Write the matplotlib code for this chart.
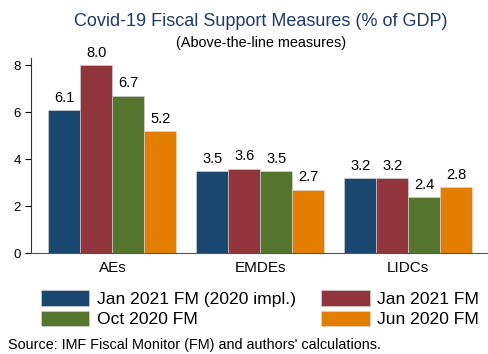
import numpy as np
import matplotlib.pyplot as plt
from matplotlib.patches import Patch

# Fiscal support by country group, % of GDP
groups = ['AEs', 'EMDEs', 'LIDCs']
series = ['Jan 2021 FM (2020 impl.)', 'Jan 2021 FM', 'Oct 2020 FM', 'Jun 2020 FM']
jan21_impl = [6.1, 3.5, 3.2]
jan21 = [8.0, 3.6, 3.2]
oct20 = [6.7, 3.5, 2.4]
jun20 = [5.2, 2.7, 2.8]
colors = ['#1a476f', '#90353b', '#55752f', '#e37e00']

plt.rcParams['font.family'] = ['Liberation Sans', 'DejaVu Sans']

fig = plt.figure(figsize=(4.88, 3.54), dpi=100)
ax = fig.add_axes([0.0635, 0.285, 0.94, 0.551])

x = np.arange(len(groups))
w = 0.216
for i, vals in enumerate([jan21_impl, jan21, oct20, jun20]):
    pos = x + (i - 1.5) * w
    bars = ax.bar(pos, vals, width=w, color=colors[i], edgecolor='#d9d9d9', linewidth=0.4)
    for b, v in zip(bars, vals):
        ax.text(b.get_x() + b.get_width() / 2, v + 0.22, f'{v:.1f}',
                ha='center', va='bottom', fontsize=10.5)

ax.set_xlim(-0.55, 2.55)
ax.set_ylim(0, 8.3)
ax.set_yticks([0, 2, 4, 6, 8])
ax.set_xticks(x)
ax.set_xticklabels(groups, fontsize=11)
ax.tick_params(axis='y', labelsize=9.5, length=4, width=0.8)
ax.tick_params(axis='x', length=0, pad=6)
ax.spines['top'].set_visible(False)
ax.spines['right'].set_visible(False)
ax.spines['left'].set_color('#333333')
ax.spines['bottom'].set_color('#555555')

fig.text(0.535, 0.94, 'Covid-19 Fiscal Support Measures (% of GDP)',
         ha='center', va='center', fontsize=13.0, color='#1e3a68')
fig.text(0.535, 0.878, '(Above-the-line measures)', ha='center', va='center', fontsize=10.4)

# legend filled column-wise, so order handles to read row by row
order = [0, 2, 1, 3]
handles = [Patch(facecolor=colors[k], edgecolor='#d9d9d9', linewidth=0.4) for k in order]
labels = [series[k] for k in order]
fig.legend(handles, labels, ncol=2, loc='center', bbox_to_anchor=(0.533, 0.128),
           frameon=False, fontsize=12.6, handlelength=2.75, handleheight=1.0,
           columnspacing=1.45, handletextpad=0.45, labelspacing=0.22,
           borderpad=0.2)

fig.text(0.016, 0.005, "Source: IMF Fiscal Monitor (FM) and authors' calculations.",
         ha='left', va='bottom', fontsize=10.4)

fig.savefig('out.png', dpi=100)
